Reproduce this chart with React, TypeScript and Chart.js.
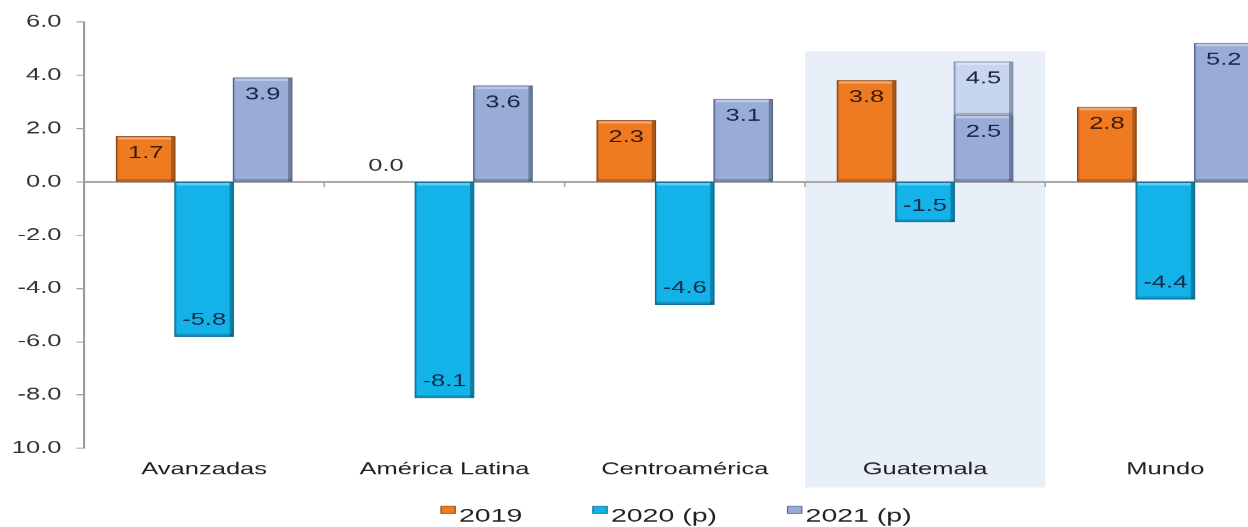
import React, { useEffect, useRef } from "react";
import { Chart, registerables } from "chart.js";

Chart.register(...registerables);

// Crecimiento económico (%) por región
const categories = ["Avanzadas", "América Latina", "Centroamérica", "Guatemala", "Mundo"];
const growth2019 = [1.7, 0.0, 2.3, 3.8, 2.8];
const growth2020 = [-5.8, -8.1, -4.6, -1.5, -4.4];
const growth2021 = [3.9, 3.6, 3.1, 2.5, 5.2];
// upper end of the 2021 range (only Guatemala has one)
const growth2021Upper: (number | null)[] = [null, null, null, 4.5, null];
const seriesLabels = ["2019", "2020 (p)", "2021 (p)"];
const yTickLabels = ["6.0", "4.0", "2.0", "0.0", "-2.0", "-4.0", "-6.0", "-8.0", "10.0"];
const highlighted = "Guatemala";

const FONT = '"Liberation Sans", Arial, sans-serif';
const STRETCH = 1.5; // text and marks are drawn horizontally widened
const CSS_W = 1290;
const CSS_H = 527;
const LOGICAL_W = Math.round(CSS_W / STRETCH);

const COLORS = ["#ee7a22", "#13b3e9", "#98acd7", "#c8d5ee"];
const EDGE = ["#8f4512", "#0b6d94", "#56678f", "#7f8fb2"];
const LABEL_COLORS = ["#3a1b08", "#0f2c4a", "#1c2644", "#1c2644"];

const decorPlugin = {
  id: "decor",
  beforeDraw(chart: any) {
    const { ctx, chartArea, scales } = chart;
    const x = scales.x;
    const y = scales.y;
    const idx = categories.indexOf(highlighted);
    const cw = (chartArea.right - chartArea.left) / categories.length;
    const cx = x.getPixelForValue(idx);
    const top = y.getPixelForValue(4.9);
    ctx.save();
    ctx.fillStyle = "#e8eff8";
    ctx.fillRect(cx - cw / 2, top, cw, chartArea.bottom + 39 - top);
    ctx.restore();
  },
  beforeDatasetsDraw(chart: any) {
    const { ctx, chartArea, scales } = chart;
    const y0 = scales.y.getPixelForValue(0);
    const cw = (chartArea.right - chartArea.left) / categories.length;
    ctx.save();
    ctx.strokeStyle = "#a3a3a3";
    ctx.lineWidth = 1.8;
    ctx.beginPath();
    ctx.moveTo(chartArea.left, y0);
    ctx.lineTo(chartArea.right, y0);
    ctx.stroke();
    ctx.lineWidth = 1;
    for (let i = 1; i < categories.length; i++) {
      const bx = chartArea.left + cw * i;
      ctx.beginPath();
      ctx.moveTo(bx, y0);
      ctx.lineTo(bx, y0 + 5);
      ctx.stroke();
    }
    ctx.restore();
  },
  afterDatasetsDraw(chart: any) {
    const { ctx } = chart;
    ctx.save();
    // bevel shading on each bar
    chart.data.datasets.forEach((ds: any, di: number) => {
      const meta = chart.getDatasetMeta(di);
      meta.data.forEach((el: any) => {
        const { x, y, base, width } = el.getProps(["x", "y", "base", "width"], true);
        const top = Math.min(y, base);
        const bottom = Math.max(y, base);
        const h = bottom - top;
        if (h < 1) return;
        const left = x - width / 2;
        const right = x + width / 2;
        ctx.fillStyle = "rgba(0,0,0,0.28)";
        ctx.fillRect(right - 2.5, top, 2.5, h);
        ctx.fillStyle = "rgba(0,0,0,0.12)";
        ctx.fillRect(left, top, 1.2, h);
        ctx.fillStyle = "rgba(255,255,255,0.35)";
        ctx.fillRect(left + 1.2, top, width - 3.7, 3);
        ctx.fillStyle = "rgba(0,0,0,0.18)";
        ctx.fillRect(left, bottom - 2.5, width, 2.5);
        ctx.strokeStyle = EDGE[di];
        ctx.lineWidth = 0.8;
        ctx.strokeRect(left, top, width, h);
      });
    });
    // value labels
    ctx.font = `17px ${FONT}`;
    ctx.textAlign = "center";
    ctx.textBaseline = "middle";
    chart.data.datasets.forEach((ds: any, di: number) => {
      const meta = chart.getDatasetMeta(di);
      meta.data.forEach((el: any, i: number) => {
        const raw = ds.data[i];
        if (raw === null || raw === undefined) return;
        const v = Array.isArray(raw) ? raw[1] : raw;
        const { x, y } = el.getProps(["x", "y"], true);
        let ly;
        if (v > 0) ly = y + 17;
        else if (v < 0) ly = y - 16;
        else ly = y - 16;
        ctx.fillStyle = v === 0 ? "#333333" : LABEL_COLORS[di];
        ctx.fillText(v.toFixed(1), x, ly);
      });
    });
    ctx.restore();
  },
  afterDraw(chart: any) {
    const { ctx } = chart;
    ctx.save();
    ctx.font = `19px ${FONT}`;
    ctx.textBaseline = "alphabetic";
    ctx.textAlign = "left";
    let bx = 294;
    const gap = 47;
    seriesLabels.forEach((label, i) => {
      ctx.fillStyle = COLORS[i];
      ctx.fillRect(bx, 506, 9.5, 7);
      ctx.strokeStyle = EDGE[i];
      ctx.lineWidth = 0.8;
      ctx.strokeRect(bx, 506, 9.5, 7);
      ctx.fillStyle = "#222222";
      ctx.fillText(label, bx + 12, 521);
      bx += 12 + ctx.measureText(label).width + gap;
    });
    ctx.restore();
  },
};

export default function App() {
  const canvasRef = useRef<HTMLCanvasElement | null>(null);

  useEffect(() => {
    const canvas = canvasRef.current;
    if (!canvas) return;
    const upperRange = growth2021Upper.map((v, i) => (v === null ? null : [growth2021[i], v]));
    const chart = new Chart(canvas, {
      type: "bar",
      data: {
        labels: categories,
        datasets: [
          { label: seriesLabels[0], data: growth2019, backgroundColor: COLORS[0], borderWidth: 0, stack: "a" } as any,
          { label: seriesLabels[1], data: growth2020, backgroundColor: COLORS[1], borderWidth: 0, stack: "b" } as any,
          { label: seriesLabels[2], data: growth2021, backgroundColor: COLORS[2], borderWidth: 0, stack: "c" } as any,
          { label: seriesLabels[2], data: upperRange, backgroundColor: COLORS[3], borderWidth: 0, stack: "c" } as any,
        ],
      },
      options: {
        responsive: false,
        animation: false,
        devicePixelRatio: STRETCH,
        categoryPercentage: 0.73,
        barPercentage: 1,
        layout: { padding: { top: 22, right: 3, left: 0, bottom: 0 } },
        plugins: { legend: { display: false }, tooltip: { enabled: false }, title: { display: false } },
        scales: {
          x: {
            stacked: true,
            grid: { display: false, drawTicks: false },
            border: { display: false },
            ticks: {
              autoSkip: false,
              maxRotation: 0,
              padding: 11,
              color: "#222222",
              font: { family: FONT, size: 17 },
            },
            afterFit: (s: any) => {
              s.height = 79;
            },
          },
          y: {
            stacked: false,
            min: -10,
            max: 6,
            grid: { drawOnChartArea: false, drawTicks: true, tickLength: 5, color: "#9a9a9a" },
            border: { display: true, color: "#9a9a9a", width: 1.4 },
            ticks: {
              stepSize: 2,
              padding: 10,
              color: "#333333",
              font: { family: FONT, size: 17 },
              callback: (value: any) => {
                const idx = Math.round((6 - Number(value)) / 2);
                return yTickLabels[idx] ?? "";
              },
            },
            afterFit: (s: any) => {
              s.width = 56;
            },
          },
        },
      } as any,
      plugins: [decorPlugin],
    });
    return () => chart.destroy();
  }, []);

  return (
    <div
      style={{
        position: "fixed",
        left: 0,
        top: 0,
        width: "1248px",
        height: "527px",
        overflow: "hidden",
        background: "#ffffff",
      }}
    >
      <canvas
        ref={canvasRef}
        width={LOGICAL_W}
        height={CSS_H}
        style={{ width: `${CSS_W}px`, height: `${CSS_H}px`, display: "block" }}
      />
    </div>
  );
}
